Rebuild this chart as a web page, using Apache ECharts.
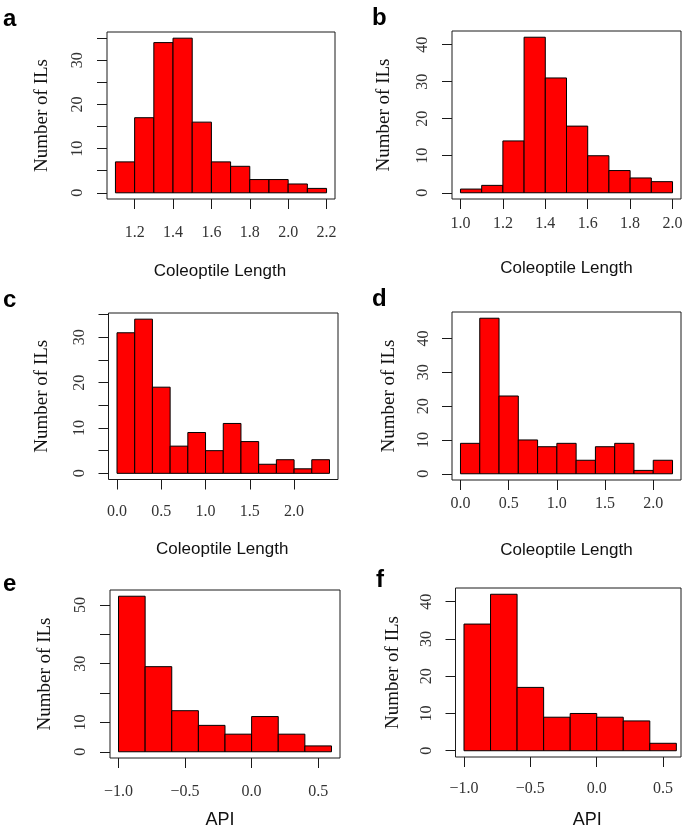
<!DOCTYPE html>
<html>
<head>
<meta charset="utf-8">
<script src="https://cdn.jsdelivr.net/npm/echarts@6/dist/echarts.min.js"></script>
<style>
html,body{margin:0;padding:0;background:#fff;}
#chart{width:685px;height:832px;}
</style>
</head>
<body>
<div id="chart"></div>
<script>
// ---------- data ----------
const panelLetters = ['a', 'b', 'c', 'd', 'e', 'f'];
const xTitles = ['Coleoptile Length', 'Coleoptile Length', 'Coleoptile Length', 'Coleoptile Length', 'API', 'API'];
const yTitle = 'Number of ILs';

const breaksA = [1.1, 1.2, 1.3, 1.4, 1.5, 1.6, 1.7, 1.8, 1.9, 2.0, 2.1, 2.2];
const countsA = [7, 17, 34, 35, 16, 7, 6, 3, 3, 2, 1];
const breaksB = [1.0, 1.1, 1.2, 1.3, 1.4, 1.5, 1.6, 1.7, 1.8, 1.9, 2.0];
const countsB = [1, 2, 14, 42, 31, 18, 10, 6, 4, 3];
const breaksC = [0.0, 0.2, 0.4, 0.6, 0.8, 1.0, 1.2, 1.4, 1.6, 1.8, 2.0, 2.2, 2.4];
const countsC = [31, 34, 19, 6, 9, 5, 11, 7, 2, 3, 1, 3];
const breaksD = [0.0, 0.2, 0.4, 0.6, 0.8, 1.0, 1.2, 1.4, 1.6, 1.8, 2.0, 2.2];
const countsD = [9, 46, 23, 10, 8, 9, 4, 8, 9, 1, 4];
const breaksE = [-1.0, -0.8, -0.6, -0.4, -0.2, 0.0, 0.2, 0.4, 0.6];
const countsE = [53, 29, 14, 9, 6, 12, 6, 2];
const breaksF = [-1.0, -0.8, -0.6, -0.4, -0.2, 0.0, 0.2, 0.4, 0.6];
const countsF = [34, 42, 17, 9, 10, 9, 8, 2];

const xTicksA = [1.2, 1.4, 1.6, 1.8, 2.0, 2.2];
const xTicksB = [1.0, 1.2, 1.4, 1.6, 1.8, 2.0];
const xTicksC = [0.0, 0.5, 1.0, 1.5, 2.0];
const xTicksD = [0.0, 0.5, 1.0, 1.5, 2.0];
const xTicksE = [-1.0, -0.5, 0.0, 0.5];
const xTicksF = [-1.0, -0.5, 0.0, 0.5];

const yTicksA = [0, 5, 10, 15, 20, 25, 30, 35];
const yLabelsA = [0, 10, 20, 30];
const yTicksB = [0, 10, 20, 30, 40];
const yLabelsB = [0, 10, 20, 30, 40];
const yTicksC = [0, 5, 10, 15, 20, 25, 30, 35];
const yLabelsC = [0, 10, 20, 30];
const yTicksD = [0, 10, 20, 30, 40];
const yLabelsD = [0, 10, 20, 30, 40];
const yTicksE = [0, 10, 20, 30, 40, 50];
const yLabelsE = [0, 10, 30, 50];
const yTicksF = [0, 10, 20, 30, 40];
const yLabelsF = [0, 10, 20, 30, 40];

const breaks = [breaksA, breaksB, breaksC, breaksD, breaksE, breaksF];
const counts = [countsA, countsB, countsC, countsD, countsE, countsF];
const xTicks = [xTicksA, xTicksB, xTicksC, xTicksD, xTicksE, xTicksF];
const yTicks = [yTicksA, yTicksB, yTicksC, yTicksD, yTicksE, yTicksF];
const yLabels = [yLabelsA, yLabelsB, yLabelsC, yLabelsD, yLabelsE, yLabelsF];
// right-hand x limit of panel f is tighter than the usual 4% (cropped box)
const xMaxOverride = [null, null, null, null, null, 0.635];

// ---------- layout ----------
const grids = [
  {left: 107, top: 32, width: 228, height: 167},
  {left: 452, top: 31, width: 229, height: 168},
  {left: 108.5, top: 313, width: 229.5, height: 166.5},
  {left: 452, top: 312, width: 229, height: 168},
  {left: 110, top: 590, width: 230, height: 168},
  {left: 455.5, top: 588, width: 225.5, height: 169}
];
const xLabelMargin = [26, 16.5, 24.5, 16, 25.5, 24];
const xNameGap = [64, 61, 61, 62, 53, 54];
const xNameShift = [-1, 0, -1, 0, -5, 19];
const yNameGap = [55, 58, 56.5, 53, 55, 52.5];
const yLabelMargin = [21, 21, 21, 20, 21, 21];
const letterPos = [[3, 7], [372, 6], [3, 288], [372, 287], [3, 572], [376, 568]];

const INK = '#1a1a1a';
const fmt = v => {
  const s = Math.abs(v).toFixed(1);
  return (v < -1e-9 ? '\u2212' : '') + s;
};

const option = {
  animation: false,
  backgroundColor: '#fff',
  grid: [], xAxis: [], yAxis: [], series: [], graphic: []
};

for (let i = 0; i < 6; i++) {
  const b = breaks[i], c = counts[i];
  const lo = b[0], hi = b[b.length - 1];
  const maxC = Math.max(...c);
  const xmin = lo - 0.04 * (hi - lo);
  const xmax = xMaxOverride[i] !== null ? xMaxOverride[i] : hi + 0.04 * (hi - lo);
  const ymin = -0.04 * maxC, ymax = 1.04 * maxC;

  option.grid.push(Object.assign({
    show: true, borderColor: INK, borderWidth: 1, backgroundColor: 'transparent',
    containLabel: false, outerBoundsMode: 'none'
  }, grids[i]));

  const sh = xNameShift[i];
  option.xAxis.push({
    type: 'value', gridIndex: i, min: xmin, max: xmax,
    axisLine: {show: false, onZero: false},
    splitLine: {show: false},
    axisTick: {show: true, length: 10, inside: false, customValues: xTicks[i],
      lineStyle: {color: INK, width: 1}},
    axisLabel: {show: true, customValues: xTicks[i], margin: xLabelMargin[i],
      formatter: v => fmt(v), color: '#333',
      fontFamily: 'Liberation Serif', fontSize: 16},
    name: xTitles[i], nameLocation: 'middle', nameGap: xNameGap[i],
    nameTextStyle: {fontFamily: 'Liberation Sans', fontSize: i >= 4 ? 18 : 17, color: '#111',
      padding: sh >= 0 ? [0, 0, 0, 2 * sh] : [0, -2 * sh, 0, 0]}
  });

  option.yAxis.push({
    type: 'value', gridIndex: i, min: ymin, max: ymax,
    axisLine: {show: false, onZero: false},
    splitLine: {show: false},
    axisTick: {show: true, length: 10, inside: false, customValues: yTicks[i],
      lineStyle: {color: INK, width: 1}},
    axisLabel: {show: true, customValues: yLabels[i], rotate: 90, margin: yLabelMargin[i],
      color: '#333', fontFamily: 'Liberation Serif', fontSize: 16},
    name: yTitle, nameLocation: 'middle', nameRotate: 90, nameGap: yNameGap[i],
    nameTextStyle: {fontFamily: 'Liberation Serif', fontSize: 19, color: '#111'}
  });

  const data = c.map((v, k) => [b[k], b[k + 1], v]);
  option.series.push({
    type: 'custom', xAxisIndex: i, yAxisIndex: i,
    data: data,
    encode: {x: [0, 1], y: 2},
    renderItem: (params, api) => {
      const p0 = api.coord([api.value(0), api.value(2)]);
      const p1 = api.coord([api.value(1), 0]);
      return {
        type: 'rect',
        shape: {x: p0[0], y: p0[1], width: p1[0] - p0[0], height: p1[1] - p0[1]},
        style: {fill: '#ff0000', stroke: '#000', lineWidth: 1}
      };
    }
  });

  option.graphic.push({
    type: 'text', left: letterPos[i][0], top: letterPos[i][1],
    style: {text: panelLetters[i], font: 'bold 24px "Liberation Sans", Arial, sans-serif', fill: '#000'}
  });
}

const chart = echarts.init(document.getElementById('chart'), null, {renderer: 'canvas'});
chart.setOption(option);
</script>
</body>
</html>
